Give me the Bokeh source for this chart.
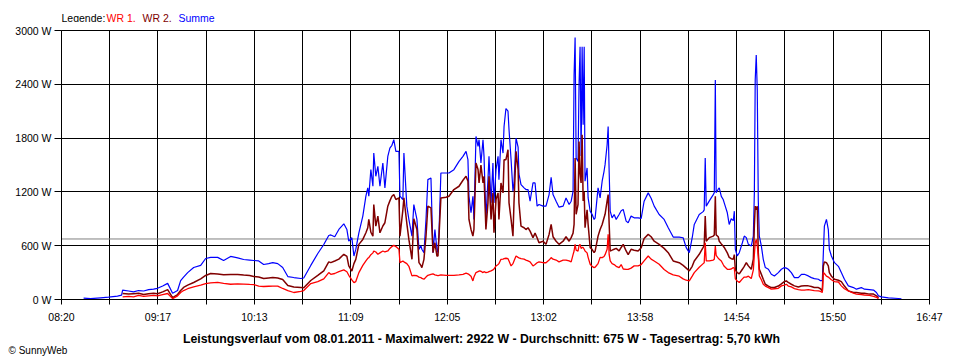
from bokeh.plotting import figure
from bokeh.layouts import column
from bokeh.models import Label, Span, FixedTicker, PrintfTickFormatter, ColumnDataSource
from bokeh.embed import file_html
from bokeh.resources import INLINE

nan = float("nan")

# time in minutes after 08:20 (08.01.2011)
t_min = [12.9, 17.0, 22.8, 27.5, 32.7, 35.1, 35.7, 39.2, 42.1, 45.0, 48.0, 50.9, 53.8, 56.1, 59.1,
         62.0, 64.9, 67.8, 69.6, 71.3, 73.7, 77.2, 81.3, 84.2, 87.1, 91.2, 94.7, 98.8, 102.9, 106.4,
         109.9, 112.3, 115.2, 118.1, 121.0, 123.4, 126.3, 129.2, 132.2, 135.7, 139.8, 141.5, 145.6,
         149.7, 153.2, 156.1, 157.3, 159.6, 162.0, 164.9, 166.7, 167.8, 169.6, 170.8, 171.9, 173.7,
         176.0, 177.8, 178.9, 179.5, 180.7, 181.9, 182.4, 183.6, 184.8, 186.0, 187.7, 188.9, 190.6,
         191.8, 193.0, 194.1, 195.3, 197.1, 197.7, 199.4, 200.0, 201.7, 202.9, 204.7, 205.8, 207.6,
         208.8, 209.9, 210.5, 211.7, 212.9, 214.0, 215.8, 217.0, 218.1, 219.3, 219.9, 220.5, 221.6,
         224.6, 226.3, 229.2, 232.2, 234.5, 236.3, 237.4, 238.0, 239.2, 240.3, 240.9, 242.1, 243.3,
         243.9, 245.0, 246.2, 246.8, 247.9, 249.1, 249.7, 250.9, 252.0, 252.6, 253.8, 255.0, 255.5,
         256.7, 257.9, 258.5, 259.6, 260.8, 261.4, 262.6, 263.7, 264.3, 265.5, 266.7, 267.2, 268.4,
         270.2, 271.3, 272.5, 273.7, 275.4, 276.6, 277.8, 278.9, 281.3, 283.0, 284.8, 286.0, 287.1,
         288.9, 290.6, 293.0, 294.7, 296.5, 297.7, 298.8, 299.4, 300.0, 300.6, 301.7, 302.3, 302.9,
         303.5, 304.1, 304.7, 305.3, 305.8, 307.0, 307.6, 308.8, 309.9, 311.1, 311.7, 313.4, 314.6,
         315.8, 316.9, 317.5, 318.7, 319.3, 319.9, 320.5, 321.6, 322.8, 324.0, 325.7, 326.9, 328.1,
         329.8, 331.0, 332.7, 334.5, 336.8, 338.6, 340.3, 342.7, 344.4, 346.2, 349.1, 352.0, 354.4,
         357.3, 360.8, 363.1, 364.9, 366.7, 368.4, 369.6, 372.5, 374.8, 375.4, 376.0, 376.6, 378.4,
         380.7, 381.3, 381.9, 382.4, 383.6, 384.2, 385.4, 386.5, 387.1, 388.9, 390.0, 391.2, 392.4,
         393.0, 393.6, 394.7, 395.9, 397.7, 398.8, 400.0, 401.2, 402.9, 404.1, 404.7, 405.2, 405.8,
         406.4, 407.0, 407.6, 408.8, 409.9, 411.1, 412.9, 414.6, 416.4, 418.7, 420.5, 422.2, 423.4,
         424.5, 426.3, 428.1, 430.4, 432.2, 433.9, 436.2, 438.0, 439.7, 442.1, 443.3, 444.4, 445.0,
         445.6, 446.8, 447.9, 448.5, 449.7, 451.5, 453.8, 455.5, 457.3, 459.6, 462.6, 464.3, 467.2,
         469.0, 471.9, 474.3, 476.0, 477.2, 478.9, 483.0, 488.9, 490.6]

summe = [15, 10, 19, 26, 37, 48, 105, 95, 85, 100, 95, 110, 115, 125, 150,
         180, 70, 100, 210, 250, 300, 357, 380, 457, 470, 470, 435, 480, 465, 446,
         440, 435, 430, 390, 400, 412, 400, 357, 256, 245, 234, 240, 380,
         513, 613, 714, 720, 700, 781, 844, 780, 652, 689, 485, 559, 744,
         930, 1152, 1245, 1152, 1448, 1263, 1633, 1374, 1485, 1263, 1522, 1245, 1596,
         1689, 1720, 1782, 1652, 1652, 1152, 1115, 1633, 1041, 893, 707, 1059, 893,
         559, 600, 560, 522, 893, 1337, 1356, 522, 781, 560, 522, 744, 1411,
         1411, 1411, 1448, 1541, 1596, 1652, 1560, 1152, 967, 1152, 893, 1819, 1708,
         1782, 1522, 1782, 1596, 893, 1337, 1596, 1078, 1522, 1078, 1448, 1596, 1337,
         1782, 1633, 1930, 2130, 2100, 1893, 1559, 1207, 1300, 1800, 1700, 1400, 1282,
         1245, 1226, 1226, 1096, 1300, 1300, 1041, 1060, 1041, 1041, 1170, 1363, 1170,
         1096, 1030, 1041, 1133, 1060, 1096, 1207, 2504, 2922, 1578, 1540, 2400, 2819,
         1600, 2819, 1948, 2819, 1319, 1467, 1133, 985, 950, 893, 910, 1245, 1133,
         1319, 1430, 1504, 1726, 1930, 1420, 985, 911, 948, 893, 948, 990, 1004,
         874, 856, 930, 911, 911, 904, 1096, 1189, 1130, 1041, 948, 893, 800,
         696, 696, 689, 578, 522, 689, 837, 948, 980, 1000, 1578, 1041, 1100,
         1170, 1190, 2448, 1190, 1230, 1245, 1150, 1115, 1078, 967, 837, 900, 880,
         985, 560, 485, 522, 633, 707, 690, 615, 596, 707, 1189, 2448, 2726,
         2337, 1100, 707, 596, 448, 356, 337, 281, 263, 300, 337, 356, 350,
         337, 300, 244, 244, 281, 281, 263, 244, 233, 226, 210, 210, 522,
         819, 893, 780, 560, 485, 411, 370, 300, 226, 152, 133, 115, 133,
         115, 110, 105, 78, 41, 30, 19, 11, 8]

wr2 = [nan, nan, nan, nan, nan, nan, 67, 60, 65, 70, 55, 65, 70, 65, 85,
       110, 22, 55, 100, 135, 160, 190, 230, 268, 290, 285, 275, 280, 278, 272,
       268, 256, 250, 234, 240, 245, 240, 223, 156, 140, 134, 130, 212,
       270, 320, 420, 411, 430, 450, 504, 480, 374, 318, 400, 448, 615,
       670, 744, 800, 893, 750, 707, 1059, 819, 930, 744, 820, 856, 1041,
       1100, 1152, 1170, 1115, 1133, 707, 1000, 1133, 850, 670, 448, 900, 780,
       411, 380, 356, 448, 707, 1041, 1022, 522, 633, 485, 485, 707, 1133,
       1140, 1152, 1226, 1263, 1330, 1374, 1320, 893, 781, 707, 781, 1522, 1450,
       1300, 1500, 1300, 1374, 781, 1078, 1374, 893, 1189, 744, 1115, 1189, 893,
       1300, 1189, 1559, 1559, 1670, 1078, 893, 707, 1078, 1652, 1448, 1078, 819,
       800, 780, 800, 763, 690, 740, 689, 633, 650, 615, 726, 837, 700,
       650, 615, 650, 700, 650, 690, 740, 837, 1578, 950, 1059, 1763, 1400,
       1300, 1837, 1100, 1200, 800, 1000, 837, 578, 560, 522, 540, 707, 780,
       837, 911, 950, 1100, 1170, 837, 541, 550, 560, 570, 541, 580, 615,
       541, 500, 560, 550, 541, 578, 680, 726, 700, 650, 615, 570, 522,
       430, 410, 380, 350, 319, 370, 430, 504, 580, 600, 930, 650, 690,
       707, 720, 1152, 720, 700, 650, 620, 596, 580, 520, 470, 455, 450,
       500, 330, 300, 285, 337, 370, 410, 375, 337, 450, 819, 1041, 1000,
       1041, 520, 337, 280, 226, 170, 150, 133, 133, 150, 175, 200, 207,
       190, 170, 152, 140, 150, 152, 152, 145, 133, 133, 120, 96, 374,
       420, 410, 374, 300, 260, 226, 215, 200, 150, 96, 78, 78, 70,
       70, 60, 60, 41, 18, nan, nan, nan, nan]

wr1 = [nan, nan, nan, nan, nan, nan, 30, 35, 30, 45, 35, 40, 45, 40, 55,
       67, 10, 40, 78, 100, 120, 140, 160, 178, 185, 190, 180, 170, 175, 172,
       168, 167, 150, 145, 148, 150, 150, 123, 100, 78, 90, 100, 178,
       200, 230, 300, 281, 290, 310, 330, 310, 270, 220, 189, 200, 300,
       380, 430, 460, 467, 500, 520, 541, 530, 505, 520, 541, 530, 541,
       570, 590, 604, 590, 560, 411, 430, 420, 400, 370, 263, 270, 265,
       250, 245, 235, 226, 250, 270, 281, 285, 275, 270, 265, 270, 275,
       270, 270, 270, 275, 280, 293, 285, 280, 260, 207, 250, 300, 310,
       319, 315, 300, 310, 300, 305, 310, 319, 330, 340, 374, 390, 400,
       448, 450, 455, 460, 455, 430, 374, 400, 430, 485, 470, 465, 455,
       450, 440, 430, 420, 374, 390, 410, 420, 410, 410, 440, 467, 450,
       440, 420, 440, 440, 430, 420, 500, 541, 615, 550, 540, 600, 615,
       570, 580, 580, 560, 540, 520, 470, 393, 370, 356, 360, 400, 470,
       467, 480, 500, 560, 726, 500, 430, 400, 390, 370, 356, 390, 340,
       335, 335, 350, 375, 375, 390, 430, 485, 450, 430, 393, 335, 300,
       275, 260, 230, 215, 207, 260, 300, 360, 400, 410, 633, 430, 430,
       440, 450, 596, 493, 460, 450, 430, 390, 370, 337, 337, 340, 355,
       350, 230, 207, 190, 230, 250, 250, 260, 233, 330, 500, 633, 670,
       600, 480, 263, 220, 170, 150, 133, 115, 120, 125, 152, 160, 170,
       150, 140, 122, 110, 105, 105, 110, 105, 100, 96, 90, 78, 300,
       290, 260, 250, 240, 220, 200, 195, 152, 120, 96, 70, 60, 55,
       50, 45, 35, 25, 10, nan, nan, nan, nan]

tick_labels = ["08:20", "09:17", "10:13", "11:09", "12:05", "13:02", "13:58", "14:54", "15:50", "16:47"]
y_ticks = [0, 600, 1200, 1800, 2400, 3000]
average_w = 675
legend_parts = ["Legende:", "WR 1,", "WR 2,", "Summe"]
legend_colors = ["black", "#FF0000", "#800000", "#0000FF"]
caption = "Leistungsverlauf vom 08.01.2011 - Maximalwert: 2922 W - Durchschnitt: 675 W - Tagesertrag: 5,70 kWh"
copyright_text = "\u00a9 SunnyWeb"

FONT = "Liberation Sans"
span_s = 507 * 60          # 08:20 .. 16:47 in seconds
step = span_s // 9          # 3380 s
major = [i * step for i in range(10)]
minor = [i * step + step // 2 for i in range(9)]


def text_strip(h):
    f = figure(width=960, height=h, x_range=(0, 960), y_range=(0, h), min_border=0,
               x_axis_location=None, y_axis_location=None,
               output_backend="svg", toolbar_location=None)
    f.grid.visible = False
    f.outline_line_color = None
    f.background_fill_color = "white"
    f.border_fill_color = "white"
    return f


# top strip with coloured legend text (frames of the column are aligned at x=61)
top = text_strip(22)
legend_dx = [0, 45, 81, 117]
for txt, col, lx in zip(legend_parts, legend_colors, legend_dx):
    top.add_layout(Label(x=lx, y=5, x_units="screen", y_units="screen", text=txt,
                         text_color=col, text_font=FONT, text_font_size="10.5px",
                         text_baseline="middle", text_align="left"))

# main chart
src = ColumnDataSource(dict(t=[m * 60 for m in t_min], summe=summe, wr1=wr1, wr2=wr2))

p = figure(frame_width=868, frame_height=269,
           min_border_left=61, min_border_right=31, min_border_top=8, min_border_bottom=25,
           x_range=(0, span_s), y_range=(0, 3000),
           output_backend="svg", toolbar_location=None)
p.background_fill_color = "white"
p.border_fill_color = "white"
p.outline_line_color = "black"
p.outline_line_width = 1

xt = FixedTicker(ticks=major, minor_ticks=minor)
yt = FixedTicker(ticks=y_ticks)
p.xaxis.ticker = xt
p.yaxis.ticker = yt
p.xgrid.ticker = xt
p.ygrid.ticker = yt
p.xgrid.grid_line_color = "black"
p.xgrid.minor_grid_line_color = "black"
p.ygrid.grid_line_color = "black"

p.xaxis.major_label_overrides = {v: lab for v, lab in zip(major, tick_labels)}
p.yaxis.formatter = PrintfTickFormatter(format="%d W")
for ax in (p.xaxis[0], p.yaxis[0]):
    ax.axis_line_color = "black"
    ax.major_tick_line_color = "black"
    ax.minor_tick_line_color = "black"
    ax.major_tick_in = 0
    ax.minor_tick_in = 0
    ax.major_label_text_font = FONT
    ax.major_label_text_font_size = "10.5px"
    ax.major_label_text_color = "black"
p.xaxis.major_tick_out = 5
p.xaxis.minor_tick_out = 5
p.xaxis.major_label_standoff = 6
p.yaxis.major_tick_out = 7
p.yaxis.minor_tick_out = 0
p.yaxis.major_label_standoff = 3

p.add_layout(Span(location=average_w, dimension="width", line_color="#808080",
                  line_width=1, level="underlay"))

p.line("t", "summe", source=src, line_color="#0000FF", line_width=1.2)
p.line("t", "wr2", source=src, line_color="#800000", line_width=1.5)
p.line("t", "wr1", source=src, line_color="#FF0000", line_width=1.3)

# bottom strip with caption and copyright
bottom = text_strip(36)
bottom.add_layout(Label(x=420, y=23, x_units="screen", y_units="screen", text=caption,
                        text_color="black", text_font=FONT, text_font_size="12.3px",
                        text_font_style="bold", text_baseline="middle", text_align="center"))
bottom.add_layout(Label(x=6, y=11, x_units="screen", y_units="screen", text=copyright_text,
                        text_color="black", text_font=FONT, text_font_size="10px",
                        text_baseline="middle", text_align="left"), "left")

layout = column(top, p, bottom, spacing=0)
open("out.html", "w").write(file_html(layout, INLINE))
